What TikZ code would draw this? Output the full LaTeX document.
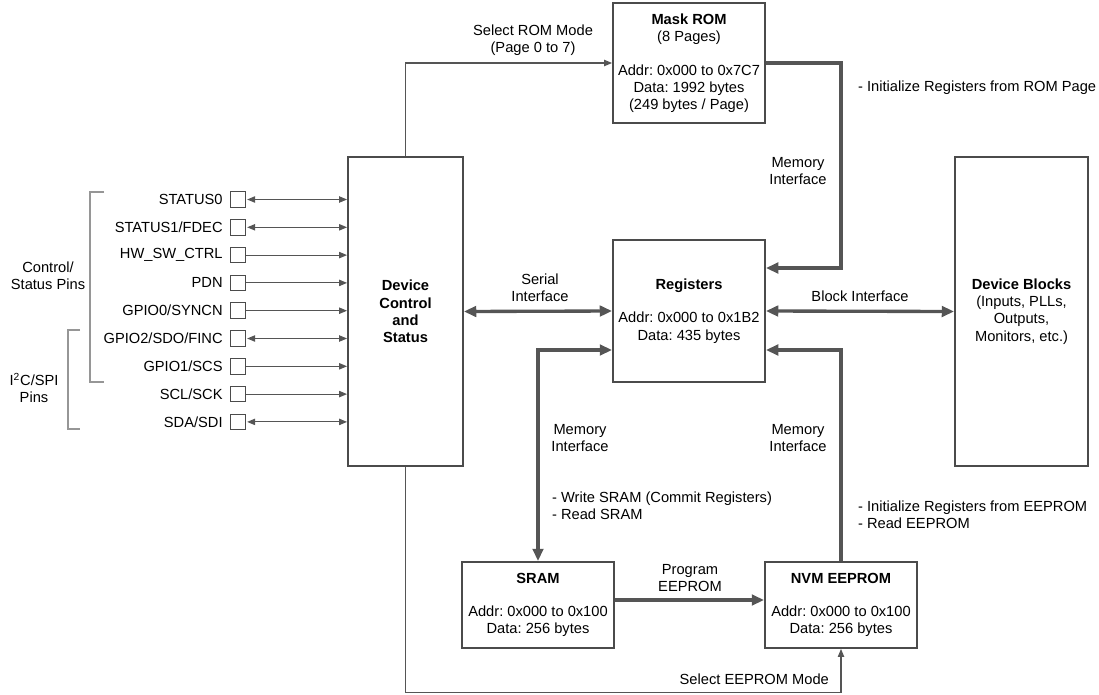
\documentclass[tikz,border=0pt]{standalone}
\usepackage{fontspec}
\setmainfont{Liberation Sans}
\usetikzlibrary{arrows.meta,positioning}
\definecolor{linegray}{RGB}{85,85,85}
\definecolor{boxgray}{RGB}{75,75,75}
\definecolor{brackgray}{RGB}{150,150,150}
\frenchspacing

\begin{document}
\begin{tikzpicture}[x=0.02cm,y=-0.02cm,
    font=\fontsize{8.35}{9.8}\selectfont,
    block/.style={draw=boxgray,line width=1.1pt,align=center,inner sep=0pt},
    pinbox/.style={draw=boxgray,line width=0.6pt,minimum size=0.31cm,inner sep=0pt},
    sigline/.style={draw=linegray,line width=0.6pt,>={Triangle[length=4.5pt,width=3.6pt]}},
    busline/.style={draw=linegray,line width=1.9pt,>={Triangle[length=7pt,width=6pt]}},
    bracket/.style={draw=brackgray,line width=0.6pt},
    lbl/.style={align=center,inner sep=1pt}]
  \useasboundingbox (0,0) rectangle (1099,694);

  % Blocks
  \node[block,minimum width=2.3cm,minimum height=6.18cm] (dc) at (405.5,311.5)
    {\textbf{Device}\\\textbf{Control}\\\textbf{and}\\\textbf{Status}};
  \node[block,minimum width=3.04cm,minimum height=2.4cm] (rom) at (689,63)
    {\textbf{Mask ROM}\\(8 Pages)\\[0.33cm]Addr: 0x000 to 0x7C7\\Data: 1992 bytes\\(249 bytes / Page)};
  \node[block,minimum width=3.04cm,minimum height=2.84cm] (reg) at (689,311)
    {\textbf{Registers}\\[0.32cm]Addr: 0x000 to 0x1B2\\Data: 435 bytes};
  \node[block,minimum width=2.66cm,minimum height=6.18cm] (blk) at (1021.5,311.5)
    {\textbf{Device Blocks}\\(Inputs, PLLs,\\Outputs,\\Monitors, etc.)};
  \node[block,minimum width=3.04cm,minimum height=1.72cm] (sram) at (538,605)
    {\textbf{SRAM}\\[0.3cm]Addr: 0x000 to 0x100\\Data: 256 bytes};
  \node[block,minimum width=3.04cm,minimum height=1.72cm] (nvm) at (841,605)
    {\textbf{NVM EEPROM}\\[0.3cm]Addr: 0x000 to 0x100\\Data: 256 bytes};

  % Pins
  \foreach \name [count=\i] in {STATUS0,STATUS1/FDEC,HW\_SW\_CTRL,PDN,GPIO0/SYNCN,
      GPIO2/SDO/FINC,GPIO1/SCS,SCL/SCK,SDA/SDI} {
    \node[pinbox] (s\i) at (238,{171.7+27.8*\i}) {};
    \node[left=0.1cm of s\i,inner sep=1pt] (p\i) {\name};
  }
  \foreach \i in {1,2,6,9}
    \draw[sigline,<->] ([xshift=0.5pt]s\i.east) -- (dc.west |- s\i.east);
  \foreach \i in {3,4,5,7,8}
    \draw[sigline,->] (s\i.east) -- (dc.west |- s\i.east);

  % Pin groups
  \draw[bracket] (104,192) -- (90,192) -- (90,382) -- (104,382);
  \draw[bracket] (80,330) -- (68,330) -- (68,429) -- (80,429);
  \node[lbl] (ctrlpins) at (48,276) {Control/\\Status Pins};
  \node[lbl] (i2cpins) at (34,388) {I\textsuperscript{2}C/SPI\\Pins};

  % Control lines
  \draw[sigline,->] (dc.north) |- (rom.west);
  \draw[sigline,->] (dc.south) |- ([yshift=-0.88cm]nvm.south) -- (nvm.south);
  \node[lbl] (romsel) at (533,40) {Select ROM Mode\\(Page 0 to 7)};
  \node[lbl,anchor=east] (eesel) at (831,679) {Select EEPROM Mode};

  % Interfaces
  \draw[busline,<->] (dc.east) -- (reg.west);
  \draw[busline,<->] (reg.east) -- (blk.west);
  \draw[busline,->] (rom.east) -| ([xshift=1.5cm,yshift=0.86cm]reg.east) -- ([yshift=0.86cm]reg.east);
  \draw[busline,->] (nvm.north) |- ([yshift=-0.78cm]reg.east);
  \draw[busline,<->] ([yshift=-0.78cm]reg.west) -| (sram.north);
  \draw[busline,->] ([yshift=0.1cm]sram.east) -- ([yshift=0.1cm]nvm.west);

  % Interface labels
  \node[lbl] (serlbl) at (540,288) {Serial\\Interface};
  \node[lbl] (blklbl) at (860,296) {Block Interface};
  \node[lbl] (memrom) at (798,171) {Memory\\Interface};
  \node[lbl] (memsram) at (580,438) {Memory\\Interface};
  \node[lbl] (memnvm) at (798,438) {Memory\\Interface};
  \node[lbl,anchor=west] (romnote) at (856,88) {- Initialize Registers from ROM Page};
  \node[lbl,anchor=west,align=left] (sramnote) at (550,506)
    {- Write SRAM (Commit Registers)\\- Read SRAM};
  \node[lbl,anchor=west,align=left] (nvmnote) at (856,515)
    {- Initialize Registers from EEPROM\\- Read EEPROM};
  \node[lbl] (proglbl) at (690,578) {Program\\EEPROM};
\end{tikzpicture}
\end{document}
